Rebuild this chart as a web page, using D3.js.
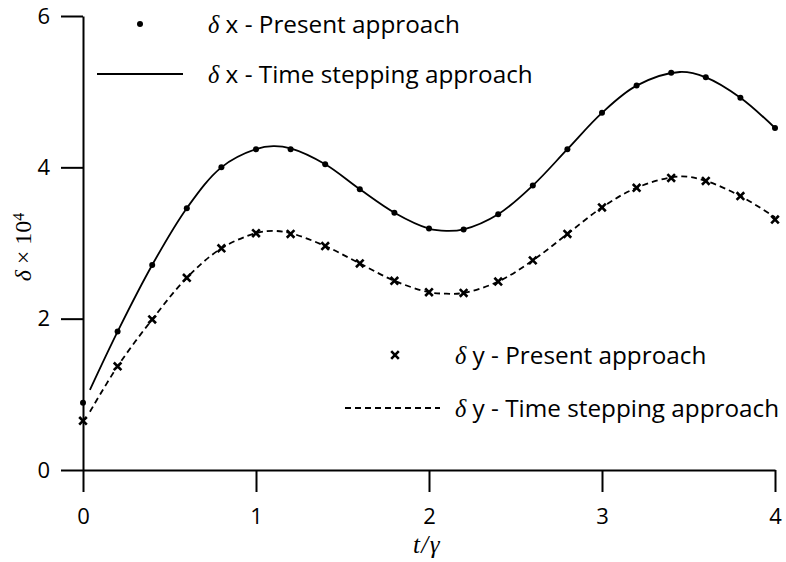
<!DOCTYPE html>
<html>
<head>
<meta charset="utf-8">
<script src="https://cdn.jsdelivr.net/npm/d3@7"></script>
<style>
  body { margin: 0; background: #fff; }
  svg { display: block; }
</style>
</head>
<body>
<svg id="chart" width="786" height="562"></svg>
<script>
// datos
const tPts = [0, 0.2, 0.4, 0.6, 0.8, 1.0, 1.2, 1.4, 1.6, 1.8, 2.0, 2.2, 2.4, 2.6, 2.8, 3.0, 3.2, 3.4, 3.6, 3.8, 4.0];
const dxPresent = [0.89, 1.83, 2.71, 3.46, 4.00, 4.24, 4.24, 4.04, 3.71, 3.40, 3.19, 3.18, 3.38, 3.76, 4.24, 4.72, 5.08, 5.25, 5.19, 4.92, 4.52];
const dyPresent = [0.65, 1.37, 1.99, 2.54, 2.93, 3.13, 3.12, 2.96, 2.73, 2.50, 2.35, 2.34, 2.49, 2.77, 3.12, 3.47, 3.73, 3.86, 3.82, 3.62, 3.31];

const tStep = [0.04, 0.2, 0.4, 0.6, 0.8, 1.0, 1.1, 1.2, 1.4, 1.6, 1.8, 2.0, 2.1, 2.2, 2.4, 2.6, 2.8, 3.0, 3.2, 3.45, 3.6, 3.8, 4.0];
const dxStep = [1.06, 1.83, 2.71, 3.46, 4.00, 4.24, 4.28, 4.25, 4.04, 3.71, 3.40, 3.19, 3.16, 3.18, 3.38, 3.76, 4.24, 4.72, 5.08, 5.26, 5.19, 4.92, 4.52];
const dyStep = [0.77, 1.37, 1.99, 2.54, 2.93, 3.13, 3.16, 3.13, 2.96, 2.73, 2.50, 2.35, 2.33, 2.34, 2.49, 2.77, 3.12, 3.47, 3.73, 3.88, 3.82, 3.62, 3.34];

const xMajor = [0, 1, 2, 3, 4];
const xMinor = [0.5, 1.5, 2.5, 3.5];
const yMajor = [0, 2, 4, 6];
const yMinor = [1, 3, 5];

const sansFont = "'Open Sans', 'Noto Sans', sans-serif";
const serifFont = "'Liberation Serif', 'DejaVu Serif', serif";

const svg = d3.select("#chart");

// escalas
const x = d3.scaleLinear().domain([0, 4]).range([83, 775]);
const y = d3.scaleLinear().domain([0, 6]).range([470, 16]);

// ejes
const gx = svg.append("g").attr("transform", "translate(0,470)");
gx.call(d3.axisBottom(x).tickValues(xMinor).tickSize(10).tickSizeOuter(0).tickFormat(""));
gx.call(d3.axisBottom(x).tickValues(xMajor).tickSize(22).tickSizeOuter(0).tickPadding(16).tickFormat(d3.format("d")));

const gy = svg.append("g").attr("transform", "translate(83,0)");
gy.call(d3.axisLeft(y).tickValues(yMinor).tickSize(10).tickSizeOuter(0).tickFormat(""));
gy.call(d3.axisLeft(y).tickValues(yMajor).tickSize(22).tickSizeOuter(0).tickPadding(11).tickFormat(d3.format("d")));

svg.selectAll(".domain, .tick line").attr("stroke", "#000").attr("stroke-width", 2);
svg.selectAll(".tick text")
  .attr("fill", "#000")
  .style("font-family", sansFont)
  .style("font-size", "22px");

// lineas del metodo time stepping
const line = d3.line()
  .x(d => x(d[0]))
  .y(d => y(d[1]))
  .curve(d3.curveCatmullRom);

svg.append("path")
  .datum(d3.zip(tStep, dxStep))
  .attr("d", line)
  .attr("fill", "none")
  .attr("stroke", "#000")
  .attr("stroke-width", 1.8);

svg.append("path")
  .datum(d3.zip(tStep, dyStep))
  .attr("d", line)
  .attr("fill", "none")
  .attr("stroke", "#000")
  .attr("stroke-width", 1.8)
  .attr("stroke-dasharray", "6,4");

// marcadores del metodo presente
svg.append("g").selectAll("circle")
  .data(d3.zip(tPts, dxPresent))
  .join("circle")
  .attr("cx", d => x(d[0]))
  .attr("cy", d => y(d[1]))
  .attr("r", 3)
  .attr("fill", "#000");

const cross = "M-3.8,-3.8L3.8,3.8M-3.8,3.8L3.8,-3.8";
svg.append("g").selectAll("path")
  .data(d3.zip(tPts, dyPresent))
  .join("path")
  .attr("transform", d => `translate(${x(d[0])},${y(d[1])})`)
  .attr("d", cross)
  .attr("stroke", "#000")
  .attr("stroke-width", 2.6)
  .attr("fill", "none");

// leyendas
const legendTexts = [];
function legendText(px, py, sym, rest) {
  const t = svg.append("text")
    .attr("x", px)
    .attr("y", py)
    .attr("dy", "0.36em")
    .style("font-size", "20px")
    .attr("fill", "#000");
  t.append("tspan").style("font-family", serifFont).style("font-style", "italic").text("δ");
  t.append("tspan").style("font-family", sansFont).text(" " + sym + " - " + rest);
  legendTexts.push(t);
  return t;
}

svg.append("circle").attr("cx", 140).attr("cy", 24).attr("r", 3).attr("fill", "#000");
legendText(208, 24, "x", "Present approach");
svg.append("line").attr("x1", 97).attr("x2", 183).attr("y1", 74).attr("y2", 74)
  .attr("stroke", "#000").attr("stroke-width", 1.8);
const ref = legendText(208, 74, "x", "Time stepping approach");

svg.append("path").attr("transform", "translate(395,355)").attr("d", cross)
  .attr("stroke", "#000").attr("stroke-width", 2.6);
legendText(455, 355, "y", "Present approach");
svg.append("line").attr("x1", 345).attr("x2", 440).attr("y1", 408).attr("y2", 408)
  .attr("stroke", "#000").attr("stroke-width", 1.8).attr("stroke-dasharray", "6,4");
legendText(455, 408, "y", "Time stepping approach");

// ajustar tamaño para que el texto mida lo mismo que en la figura (~327 px)
const len = ref.node().getComputedTextLength();
const fs = Math.min(26, 20 * 325 / len);
legendTexts.forEach(t => t.style("font-size", fs + "px"));

// titulos de ejes
svg.append("text")
  .attr("x", x(2) - 2)
  .attr("y", 553)
  .attr("text-anchor", "middle")
  .attr("letter-spacing", "1.5")
  .style("font-family", serifFont)
  .style("font-style", "italic")
  .style("font-size", "25px")
  .text("t/γ");

const yl = svg.append("text")
  .attr("transform", "translate(31,247) rotate(-90)")
  .attr("text-anchor", "middle")
  .style("font-family", serifFont)
  .style("font-size", "24px");
yl.append("tspan").style("font-style", "italic").text("δ");
yl.append("tspan").text(" × 10");
yl.append("tspan").attr("dy", "-0.45em").style("font-size", "16px").text("4");
</script>
</body>
</html>
